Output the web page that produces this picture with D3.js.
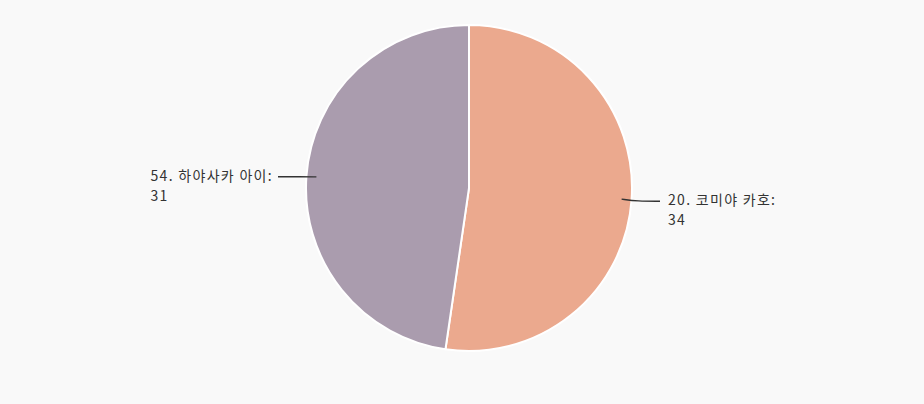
<!DOCTYPE html>
<html>
<head>
<meta charset="utf-8">
<script src="https://cdn.jsdelivr.net/npm/d3@7"></script>
<style>
  body { margin: 0; background: #f9f9f9; }
  svg { display: block; }
  text { font-family: "Noto Sans CJK KR", "Noto Sans", sans-serif; font-size: 14px; fill: #333; letter-spacing: 1.3px; }
</style>
</head>
<body>
<div id="graph"></div>
<script>
var names = ["20. 코미야 카호", "54. 하야사카 아이"];
var votes = [34, 31];
var colors = ["#eba98e", "#aa9cae"];

var width = 924, height = 404;
var cx = 469, cy = 188, radius = 163;

var data = names.map(function (n, i) { return { name: n, value: votes[i], color: colors[i] }; });

var svg = d3.select("#graph").append("svg")
    .attr("width", width)
    .attr("height", height);

var g = svg.append("g")
    .attr("transform", "translate(" + cx + "," + cy + ")");

var pie = d3.pie()
    .sort(null)
    .value(function (d) { return d.value; });

var arc = d3.arc()
    .innerRadius(0)
    .outerRadius(radius);

var arcs = pie(data);

g.selectAll(".slice")
    .data(arcs)
    .enter().append("path")
    .attr("class", "slice")
    .attr("d", arc)
    .attr("fill", function (d) { return d.data.color; })
    .attr("stroke", "#ffffff")
    .attr("stroke-width", 2);

// connectors + labels
function drawLabels() {
    arcs.forEach(function (d) {
        var mid = (d.startAngle + d.endAngle) / 2;
        var sx = Math.sin(mid), sy = -Math.cos(mid);
        var right = sx > 0;
        var p0 = [(radius - 10) * sx, (radius - 10) * sy];
        var p1 = [(radius + 6) * sx, (radius + 6) * sy + 1];
        var p2 = [(right ? 1 : -1) * (radius + 28), p1[1]];

        g.append("path")
            .attr("d", d3.line().curve(d3.curveBasis)([p0, p1, p2]))
            .attr("fill", "none")
            .attr("stroke", "#333")
            .attr("stroke-width", 1.4);

        var label = g.append("text")
            .attr("y", p2[1] + 4);
        var first = label.append("tspan").text(d.data.name + ":");
        label.append("tspan").attr("dy", 20).text(d.data.value);

        var w = first.node().getComputedTextLength();
        var tx = right ? p2[0] + 8 : p2[0] - 5 - w;
        label.selectAll("tspan").attr("x", tx);
    });
}

if (document.fonts && document.fonts.load) {
    document.fonts.load("14px 'Noto Sans CJK KR'", "하야사카").then(drawLabels, drawLabels);
} else {
    drawLabels();
}
</script>
</body>
</html>
